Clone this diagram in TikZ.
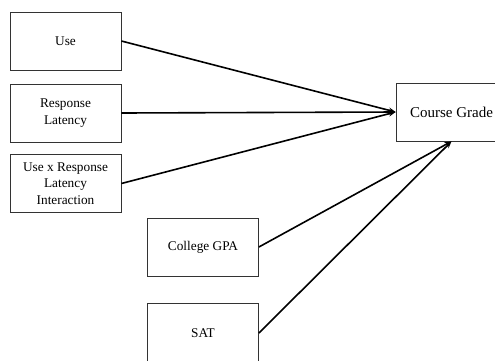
\documentclass[tikz,border=0pt]{standalone}
\usepackage{fontspec}
\setmainfont{Liberation Serif}
\usetikzlibrary{arrows.meta}
\begin{document}
\begin{tikzpicture}[x=1pt,y=-1pt,
  box/.style={draw=black!80,line width=0.8pt,minimum width=111pt,minimum height=58pt,inner sep=2pt,align=center,font=\fontsize{13.3}{16.5}\selectfont},
  big/.style={box,font=\fontsize{15}{18}\selectfont,minimum height=58pt},
  conn/.style={line width=1.6pt,-{Stealth[length=7pt,width=5.5pt]}}]
\useasboundingbox (0,0) rectangle (495,360);
\node[box] (use) at (65.5,41) {Use};
\node[box] (rl) at (65.5,113) {Response\\Latency};
\node[box] (uxrl) at (65.5,183.5) {Use x Response\\Latency\\Interaction};
\node[box] (gpa) at (203,247) {College GPA};
\node[box,minimum height=60pt] (sat) at (203,333) {SAT};
\node[big] (cg) at (451.5,112) {Course Grade};
\draw[conn] (use.east) -- (cg.west);
\draw[conn] (rl.east) -- (cg.west);
\draw[conn] (uxrl.east) -- (cg.west);
\draw[conn] (gpa.east) -- (cg.south);
\draw[conn] (sat.east) -- (cg.south);
\end{tikzpicture}
\end{document}
